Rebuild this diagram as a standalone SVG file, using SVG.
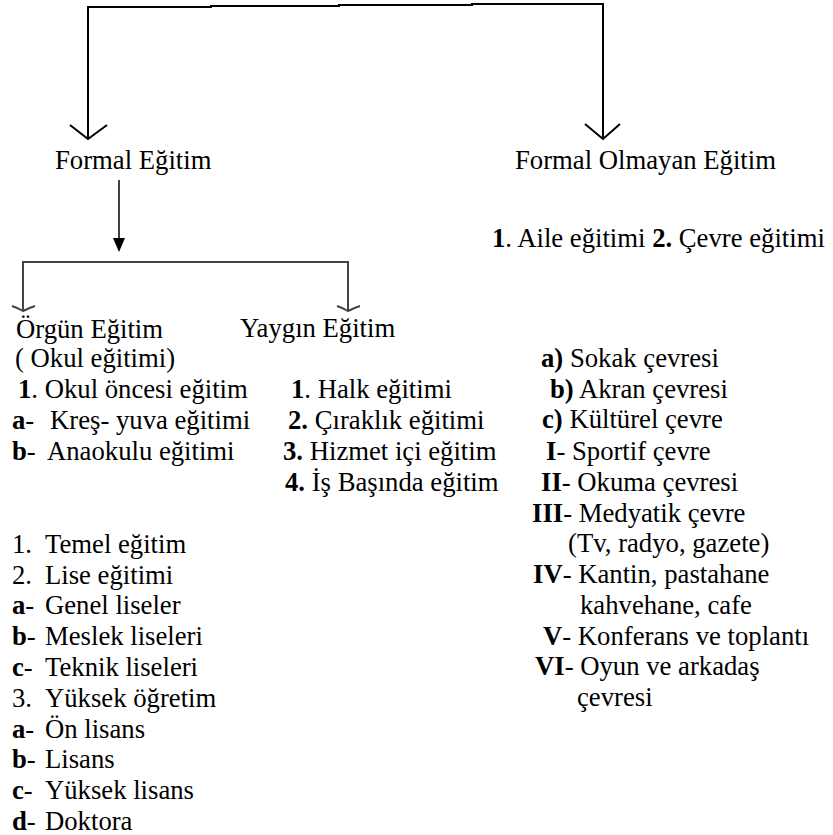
<svg xmlns="http://www.w3.org/2000/svg" width="833" height="835" viewBox="0 0 833 835" font-family="'Liberation Serif', 'Times New Roman', Times, 'DejaVu Serif', serif">
<style>
text { font-family: 'Liberation Serif', 'Times New Roman', Times, 'DejaVu Serif', serif; font-size: 26.7px; fill: #000; }
.b { font-weight: bold; }
.main { stroke: #000; stroke-width: 2; fill: none; }
.thin { stroke: #000; stroke-width: 1.5; fill: none; }
.grey { stroke: #444; stroke-width: 2; fill: none; }
</style>
<rect width="833" height="835" fill="#fff"/>
<g id="connectors">
  <polyline class="main" points="88,139 88,7 211,7 211,6 339,6 339,5 472,5 472,4 603,4 603,139"/>
  <polyline class="main" points="70,125 88,139 107,125"/>
  <polyline class="main" points="585,124 603,139 620,124"/>
  <line class="thin" x1="119" y1="180" x2="119" y2="241"/>
  <polygon points="113,238 125,238 119,252" fill="#000"/>
  <polyline class="grey" points="23,310 23,262 348,262 348,310"/>
  <path class="grey" d="M12,306 Q18,308 23,311 Q29,308 35,306"/>
  <path class="grey" d="M337,306 Q343,308 348,311 Q354,308 360,306"/>
</g>
<g id="node-formal">
  <text x="55" y="169">Formal Eğitim</text>
</g>
<g id="node-formal-olmayan">
  <text x="515" y="169">Formal Olmayan Eğitim</text>
</g>
<g id="node-aile-cevre">
  <text x="492" y="247"><tspan class="b">1</tspan>. Aile eğitimi <tspan class="b">2.</tspan> Çevre eğitimi</text>
</g>
<g id="node-orgun">
  <text x="16" y="338">Örgün Eğitim</text>
  <text x="15" y="367">( Okul eğitimi)</text>
  <text x="18" y="398"><tspan class="b">1</tspan>. Okul öncesi eğitim</text>
  <text x="12" y="429"><tspan class="b">a</tspan>-<tspan x="50">Kreş- yuva eğitimi</tspan></text>
  <text x="12" y="460"><tspan class="b">b</tspan>-<tspan x="47">Anaokulu eğitimi</tspan></text>
</g>
<g id="node-orgun-levels">
  <text x="12" y="553">1.<tspan x="45">Temel eğitim</tspan></text>
  <text x="12" y="584">2.<tspan x="45">Lise eğitimi</tspan></text>
  <text x="12" y="614"><tspan class="b">a</tspan>-<tspan x="45">Genel liseler</tspan></text>
  <text x="12" y="645"><tspan class="b">b</tspan>-<tspan x="45">Meslek liseleri</tspan></text>
  <text x="12" y="676"><tspan class="b">c</tspan>-<tspan x="45">Teknik liseleri</tspan></text>
  <text x="12" y="707">3.<tspan x="45">Yüksek öğretim</tspan></text>
  <text x="12" y="738"><tspan class="b">a</tspan>-<tspan x="45">Ön lisans</tspan></text>
  <text x="12" y="768"><tspan class="b">b</tspan>-<tspan x="45">Lisans</tspan></text>
  <text x="12" y="799"><tspan class="b">c</tspan>-<tspan x="45">Yüksek lisans</tspan></text>
  <text x="12" y="830"><tspan class="b">d</tspan>-<tspan x="45">Doktora</tspan></text>
</g>
<g id="node-yaygin">
  <text x="240" y="337">Yaygın Eğitim</text>
  <text x="291" y="398"><tspan class="b">1</tspan>. Halk eğitimi</text>
  <text x="288" y="429"><tspan class="b">2.</tspan> Çıraklık eğitimi</text>
  <text x="283" y="460"><tspan class="b">3.</tspan> Hizmet içi eğitim</text>
  <text x="285" y="491"><tspan class="b">4.</tspan> İş Başında eğitim</text>
</g>
<g id="node-cevre">
  <text x="541" y="367"><tspan class="b">a)</tspan> Sokak çevresi</text>
  <text x="550" y="398"><tspan class="b">b)</tspan> Akran çevresi</text>
  <text x="542" y="428"><tspan class="b">c)</tspan> Kültürel çevre</text>
  <text x="546" y="460"><tspan class="b">I</tspan>- Sportif çevre</text>
  <text x="541" y="491"><tspan class="b">II</tspan>- Okuma çevresi</text>
  <text x="532" y="522"><tspan class="b">III</tspan>- Medyatik çevre</text>
  <text x="568" y="552">(Tv, radyo, gazete)</text>
  <text x="533" y="583"><tspan class="b">IV</tspan>- Kantin, pastahane</text>
  <text x="580" y="614">kahvehane, cafe</text>
  <text x="543" y="645"><tspan class="b">V</tspan>- Konferans ve toplantı</text>
  <text x="535" y="675"><tspan class="b">VI</tspan>- Oyun ve arkadaş</text>
  <text x="577" y="706">çevresi</text>
</g>
</svg>
